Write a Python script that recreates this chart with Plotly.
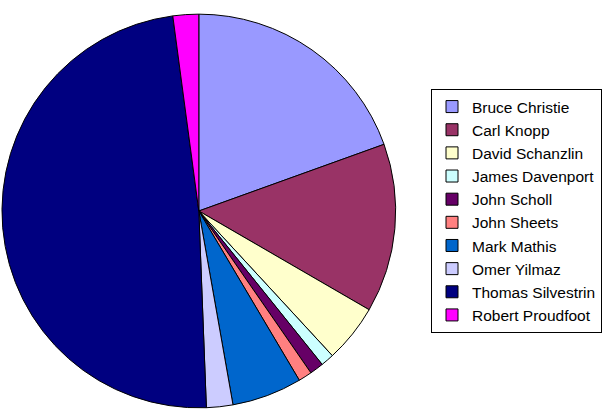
import plotly.graph_objects as go

names = ["Bruce Christie", "Carl Knopp", "David Schanzlin", "James Davenport",
         "John Scholl", "John Sheets", "Mark Mathis", "Omer Yilmaz",
         "Thomas Silvestrin", "Robert Proudfoot"]
values = [70.2, 49.9, 17.2, 3.9, 4.1, 4.0, 20.7, 7.8, 174.6, 7.6]
colors = ["#9999FF", "#993366", "#FFFFCC", "#CCFFFF", "#660066",
          "#FF8080", "#0066CC", "#CCCCFF", "#000080", "#FF00FF"]

W, H = 602, 419
cx, cy, r = 201.5, 211.0, 199.5

fig = go.Figure(go.Pie(
    labels=names, values=values, sort=False, direction="clockwise", rotation=0,
    marker=dict(colors=colors, line=dict(color="black", width=1)),
    textinfo="none", hoverinfo="label+percent",
    domain=dict(x=[(cx - r) / W, (cx + r) / W],
                y=[(H - cy - r) / H, (H - cy + r) / H]),
))

fig.update_layout(
    width=W, height=H,
    margin=dict(l=0, r=0, t=0, b=0),
    paper_bgcolor="white", plot_bgcolor="white",
    font=dict(family="Liberation Sans, Arial, sans-serif", color="black"),
    legend=dict(
        x=437 / W, y=1 - 89 / H, xanchor="left", yanchor="top",
        bordercolor="black", borderwidth=1, bgcolor="white",
        font=dict(size=15.5, family="Liberation Sans, Arial, sans-serif", color="black"),
        itemwidth=30,
    ),
    showlegend=True,
)

fig.write_html("out.html")
